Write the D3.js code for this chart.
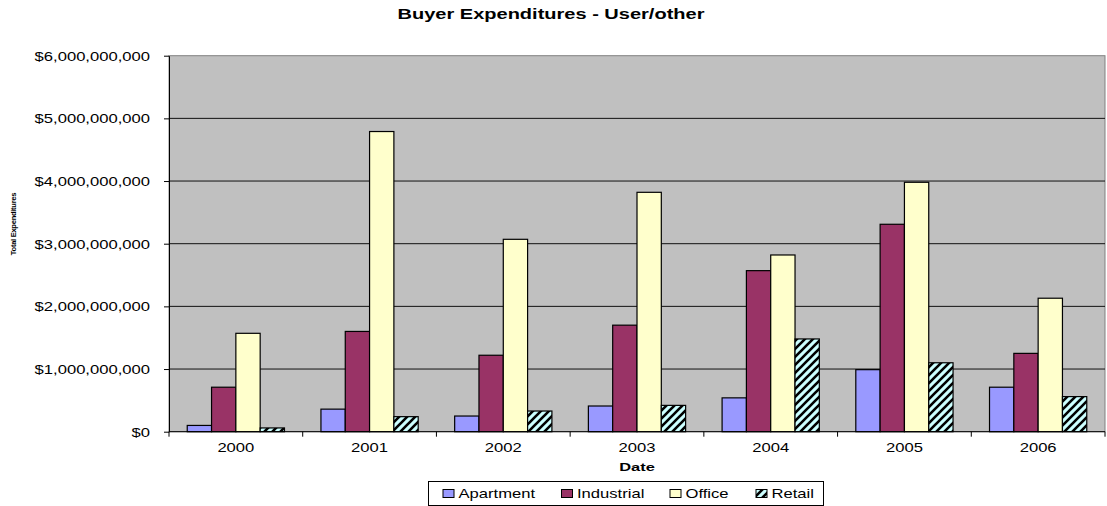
<!DOCTYPE html>
<html>
<head>
<meta charset="utf-8">
<script src="https://cdn.jsdelivr.net/npm/d3@7"></script>
<style>
  html, body { margin: 0; padding: 0; background: #fff; }
  svg { display: block; font-family: "Liberation Sans", Arial, sans-serif; }
</style>
</head>
<body>
<svg id="chart" width="1107" height="506"></svg>
<script>
// Buyer expenditures by property type, per year (US dollars)
const years = ["2000", "2001", "2002", "2003", "2004", "2005", "2006"];
const seriesNames = ["Apartment", "Industrial", "Office", "Retail"];
const apartment  = [0.10e9, 0.36e9, 0.25e9, 0.41e9, 0.54e9, 0.99e9, 0.71e9];
const industrial = [0.71e9, 1.60e9, 1.22e9, 1.70e9, 2.57e9, 3.31e9, 1.25e9];
const office     = [1.57e9, 4.79e9, 3.07e9, 3.82e9, 2.82e9, 3.98e9, 2.13e9];
const retail     = [0.06e9, 0.24e9, 0.33e9, 0.42e9, 1.48e9, 1.10e9, 0.56e9];
const yTicks = [0, 1e9, 2e9, 3e9, 4e9, 5e9, 6e9];

const seriesValues = [apartment, industrial, office, retail];
const fills = ["#9999FF", "#993366", "#FFFFCC", "url(#hatch)"];

const svg = d3.select("#chart");
const SX = 1.33;     // horizontal stretch of regular text
const SXB = 1.43;    // horizontal stretch of bold text

// Diagonal hatch for the Retail series
const defs = svg.append("defs");
const pat = defs.append("pattern")
  .attr("id", "hatch").attr("patternUnits", "userSpaceOnUse")
  .attr("width", 8).attr("height", 8);
pat.append("rect").attr("width", 8).attr("height", 8).attr("fill", "#CCFFFF");
pat.append("path")
  .attr("d", "M-2,2 L2,-2 M0,8 L8,0 M6,10 L10,6")
  .attr("stroke", "#000").attr("stroke-width", 2.6);

const plot = { left: 169, right: 1105, top: 55.7, bottom: 431.7 };

const x0 = d3.scaleBand().domain(years).range([plot.left, plot.right]).padding(0);
const x1 = d3.scaleBand().domain(seriesNames).range([0, x0.bandwidth()])
  .paddingInner(0).paddingOuter(0.75);
const y = d3.scaleLinear().domain([0, 6e9]).range([plot.bottom, plot.top]);

// Plot background
svg.append("rect")
  .attr("x", plot.left).attr("y", plot.top)
  .attr("width", plot.right - plot.left).attr("height", plot.bottom - plot.top)
  .attr("fill", "#C0C0C0").attr("stroke", "#808080").attr("stroke-width", 1);

// Gridlines
svg.append("g").selectAll("line")
  .data(yTicks.filter(d => d > 0 && d < 6e9))
  .join("line")
  .attr("x1", plot.left).attr("x2", plot.right)
  .attr("y1", d => y(d)).attr("y2", d => y(d))
  .attr("stroke", "#111").attr("stroke-width", 1);

// Bars
const groups = svg.append("g").selectAll("g")
  .data(seriesNames)
  .join("g")
  .attr("fill", (d, i) => fills[i]);

groups.selectAll("rect")
  .data((s, si) => years.map((yr, i) => ({ yr, s, v: seriesValues[si][i] })))
  .join("rect")
  .attr("x", d => x0(d.yr) + x1(d.s))
  .attr("y", d => y(d.v))
  .attr("width", x1.bandwidth())
  .attr("height", d => y(0) - y(d.v))
  .attr("stroke", "#000").attr("stroke-width", 1.2);

// Y axis
const yAxis = svg.append("g")
  .attr("transform", `translate(${plot.left},0)`)
  .call(d3.axisLeft(y).tickValues(yTicks).tickSize(5).tickSizeOuter(0)
    .tickFormat(d => "$" + d3.format(",")(d)));
yAxis.select(".domain").attr("stroke", "#000");
yAxis.selectAll(".tick line").attr("stroke", "#000");
yAxis.selectAll(".tick text")
  .attr("x", null).attr("dy", null)
  .attr("transform", `translate(-19,4.5) scale(${SX},1)`)
  .attr("font-size", 12.5).attr("fill", "#000")
  .attr("font-family", "Liberation Sans, Arial, sans-serif");

// X axis (ticks at category boundaries)
const xAxisG = svg.append("g");
xAxisG.append("line")
  .attr("x1", plot.left).attr("x2", plot.right)
  .attr("y1", plot.bottom).attr("y2", plot.bottom)
  .attr("stroke", "#000").attr("stroke-width", 1);
const bounds = years.map(yr => x0(yr)).concat([x0(years[years.length - 1]) + x0.bandwidth()]);
xAxisG.selectAll(".xt").data(bounds).join("line")
  .attr("class", "xt")
  .attr("x1", d => d).attr("x2", d => d)
  .attr("y1", plot.bottom).attr("y2", plot.bottom + 5)
  .attr("stroke", "#000");
xAxisG.selectAll(".xl").data(years).join("text")
  .attr("class", "xl")
  .attr("transform", d => `translate(${x0(d) + x0.bandwidth() / 2},452) scale(${SX},1)`)
  .attr("text-anchor", "middle")
  .attr("font-size", 12.5).attr("fill", "#000")
  .text(d => d);

// Title
svg.append("text")
  .attr("transform", `translate(551,18.5) scale(${SXB},1)`)
  .attr("text-anchor", "middle")
  .attr("font-size", 14).attr("font-weight", "bold")
  .text("Buyer Expenditures - User/other");

// Axis titles
svg.append("text")
  .attr("transform", `translate(637,471) scale(${SXB},1)`)
  .attr("text-anchor", "middle")
  .attr("font-size", 11.5).attr("font-weight", "bold")
  .text("Date");

svg.append("text")
  .attr("transform", "translate(16,224) rotate(-90)")
  .attr("text-anchor", "middle")
  .attr("font-size", 7.6).attr("font-weight", "bold")
  .attr("letter-spacing", -0.3)
  .text("Total Expenditures");

// Legend
const legend = svg.append("g");
legend.append("rect")
  .attr("x", 428.5).attr("y", 481.5).attr("width", 395).attr("height", 24)
  .attr("fill", "#fff").attr("stroke", "#000").attr("stroke-width", 1);
const legendX = [443, 561.5, 670, 756];
const items = legend.selectAll(".li").data(seriesNames).join("g")
  .attr("class", "li")
  .attr("transform", (d, i) => `translate(${legendX[i]},0)`);
items.append("rect")
  .attr("x", 0).attr("y", 489.5).attr("width", 11).attr("height", 8)
  .attr("fill", (d, i) => fills[i]).attr("stroke", "#000").attr("stroke-width", 1);
items.append("text")
  .attr("transform", `translate(15.5,497.5) scale(${SX},1)`)
  .attr("font-size", 12.5).attr("fill", "#000")
  .text(d => d);
</script>
</body>
</html>
